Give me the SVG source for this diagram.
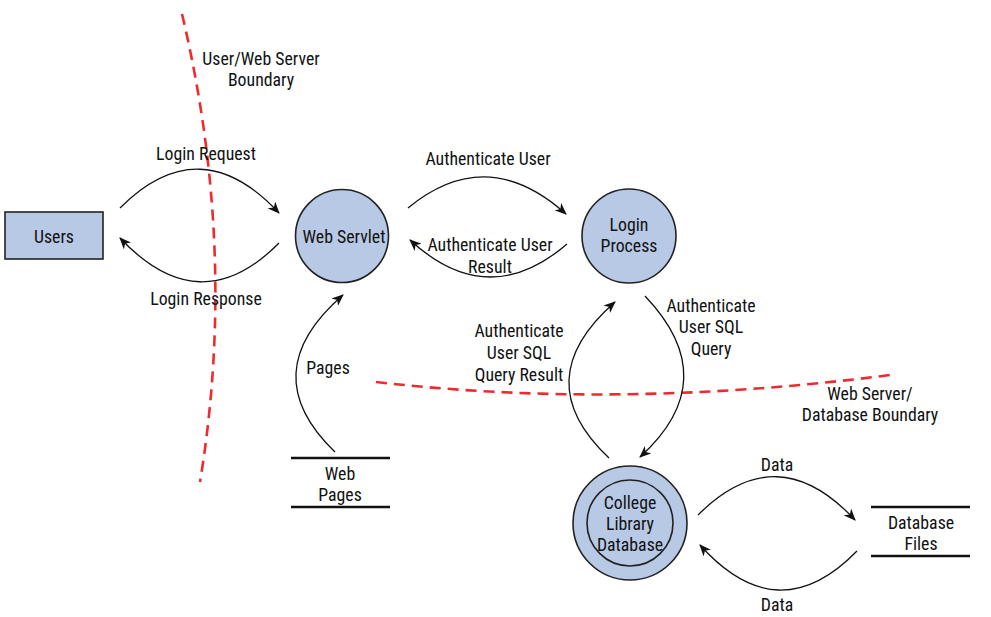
<svg xmlns="http://www.w3.org/2000/svg" width="991" height="617" viewBox="0 0 991 617">
<style>
text{font-family:"Liberation Sans Narrow","Roboto Condensed","Liberation Sans",sans-serif;font-size:17.8px;fill:#111;text-anchor:middle;dominant-baseline:central}
.node{fill:#b8c9e6;stroke:#222;stroke-width:1.6}
.flow{fill:none;stroke:#111;stroke-width:1.3;marker-end:url(#arr)}
.bound{fill:none;stroke:#ee2a2e;stroke-width:2.6;stroke-dasharray:11 7}
.store{stroke:#111;stroke-width:2.4}
</style>
<defs>
<marker id="arr" viewBox="0 0 12 10" refX="11" refY="5" markerWidth="12" markerHeight="10" markerUnits="userSpaceOnUse" orient="auto">
<path d="M0,0 L12,5 L0,10 L3.5,5 z" fill="#111"/>
</marker>
</defs>
<g id="boundaries">
<path class="bound" d="M182,14 Q238,250 200,482"/>
<path class="bound" d="M376,382 Q620,410 890,375"/>
<text x="261" y="58">User/Web Server</text>
<text x="261" y="79">Boundary</text>
<text x="870" y="393">Web Server/</text>
<text x="870" y="414">Database Boundary</text>
</g>
<g id="connectors">
<path class="flow" d="M120,208 Q200,128 279,213"/>
<path class="flow" d="M279,243 Q200,323 120,238"/>
<path class="flow" d="M408,208 Q487,143 566,214"/>
<path class="flow" d="M567,244 Q488,312 410,240"/>
<path class="flow" d="M335,452 Q253,373 343,295"/>
<path class="flow" d="M609,458 Q526,380 615,302"/>
<path class="flow" d="M645,296 Q725,380 640,457"/>
<path class="flow" d="M698,515 Q777,436 855,520"/>
<path class="flow" d="M857,551 Q778,632 700,545"/>
<text x="206" y="153">Login Request</text>
<text x="206" y="298">Login Response</text>
<text x="488" y="158">Authenticate User</text>
<text x="490" y="244">Authenticate User</text>
<text x="490" y="266">Result</text>
<text x="328" y="367">Pages</text>
<text x="519" y="330">Authenticate</text>
<text x="519" y="352">User SQL</text>
<text x="519" y="374">Query Result</text>
<text x="711" y="305">Authenticate</text>
<text x="711" y="326">User SQL</text>
<text x="711" y="348">Query</text>
<text x="777" y="464">Data</text>
<text x="777" y="604">Data</text>
</g>
<g id="users">
<rect class="node" x="5" y="212" width="98" height="47"/>
<text x="54" y="236">Users</text>
</g>
<g id="web-servlet">
<circle class="node" cx="342" cy="236" r="46.5"/>
<text x="344" y="236">Web Servlet</text>
</g>
<g id="login-process">
<circle class="node" cx="629" cy="236" r="47"/>
<text x="629" y="224">Login</text>
<text x="629" y="245">Process</text>
</g>
<g id="college-library-database">
<circle class="node" cx="630" cy="523" r="57"/>
<circle class="node" cx="630" cy="523" r="43"/>
<text x="630" y="502">College</text>
<text x="630" y="523">Library</text>
<text x="630" y="544">Database</text>
</g>
<g id="web-pages">
<line class="store" x1="291" y1="458" x2="390" y2="458"/>
<line class="store" x1="291" y1="507" x2="390" y2="507"/>
<text x="340" y="473">Web</text>
<text x="340" y="494">Pages</text>
</g>
<g id="database-files">
<line class="store" x1="871" y1="507" x2="970" y2="507"/>
<line class="store" x1="871" y1="556" x2="970" y2="556"/>
<text x="921" y="522">Database</text>
<text x="921" y="543">Files</text>
</g>
</svg>
